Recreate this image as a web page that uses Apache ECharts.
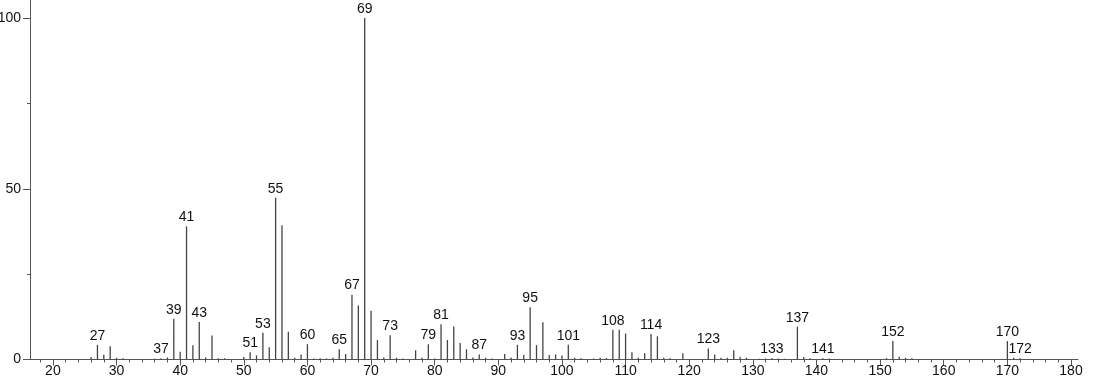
<!DOCTYPE html>
<html>
<head>
<meta charset="utf-8">
<script src="https://cdn.jsdelivr.net/npm/echarts@6/dist/echarts.min.js"></script>
<style>
html,body{margin:0;padding:0;background:#fff;}
#chart{width:1094px;height:384px;}
</style>
</head>
<body>
<div id="chart"></div>
<script>
// m/z values
var masses = [26,27,28,29,30,31,36,37,38,39,40,41,42,43,44,45,46,47,50,51,52,53,54,55,56,57,58,59,60,61,62,63,64,65,66,67,68,69,70,71,72,73,74,75,77,78,79,80,81,82,83,84,85,86,87,88,89,91,92,93,94,95,96,97,98,99,100,101,102,103,105,106,107,108,109,110,111,112,113,114,115,116,117,119,123,124,125,126,127,128,129,131,132,133,134,135,137,138,139,141,142,151,152,153,154,155,170,171,172];
// relative intensities
var intensities = [0.7,4.3,1.4,3.9,0.5,0.4,0.2,0.4,0.6,11.9,2.3,39.0,4.2,11.0,0.6,7.0,0.4,0.4,0.7,2.1,1.2,7.8,3.6,47.4,39.3,8.1,0.5,1.5,4.5,0.3,0.4,0.3,0.5,3.0,1.6,19.0,15.8,100,14.3,5.7,0.6,7.1,0.5,0.3,2.7,0.5,4.5,0.3,10.3,5.7,9.7,4.8,3.0,0.6,1.5,0.5,0.3,1.6,0.6,4.3,1.3,15.3,4.2,10.9,1.3,1.5,1.2,4.3,0.5,0.4,0.3,0.5,0.4,8.7,8.7,7.6,2.1,0.5,1.8,7.5,6.8,0.5,0.4,1.8,3.2,1.5,0.5,0.5,2.7,0.8,0.5,0.2,0.3,0.4,0.3,0.2,9.6,0.7,0.4,0.4,0.3,0.4,5.4,0.8,0.5,0.4,5.4,0.5,0.4];
// peaks that carry a label
var labeledMasses = [27,37,39,41,43,51,53,55,60,65,67,69,73,79,81,87,93,95,101,108,114,123,133,137,141,152,170,172];
// axis ticks
var xMajorTicks = [20,30,40,50,60,70,80,90,100,110,120,130,140,150,160,170,180];
var xMinorTicks = [18,22,24,26,28,32,34,36,38,42,44,46,48,52,54,56,58,62,64,66,68,72,74,76,78,82,84,86,88,92,94,96,98,102,104,106,108,112,114,116,118,122,124,126,128,132,134,136,138,142,144,146,148,152,154,156,158,162,164,166,168,172,174,176,178];
var yMajorTicks = [0,50,100];
var yMinorTicks = [25,75];

var data = masses.map(function(m, i){
  var item = {value:[m, intensities[i]]};
  if (labeledMasses.indexOf(m) >= 0) item.label = {show:true};
  return item;
});

var X_MIN = 16.4, X_MAX = 181.1, Y_MIN = 0, Y_MAX = 105.3;
var font = 'Liberation Sans, Arial, sans-serif';
var axisColor = '#555';

var chart = echarts.init(document.getElementById('chart'), null, {renderer:'canvas'});
chart.setOption({
  animation:false,
  backgroundColor:'#fff',
  grid:{left:30, right:16, top:0, bottom:24.5, containLabel:false, outerBoundsMode:'none'},
  xAxis:[{
    type:'value', min:X_MIN, max:X_MAX, position:'bottom',
    axisLine:{show:true, onZero:false, lineStyle:{color:axisColor, width:1}},
    axisTick:{show:true, customValues:xMajorTicks, length:6, lineStyle:{color:axisColor}},
    axisLabel:{show:true, customValues:xMajorTicks, color:'#111', fontFamily:font, fontSize:14, margin:5},
    splitLine:{show:false}
  },{
    type:'value', min:X_MIN, max:X_MAX, position:'bottom',
    axisLine:{show:false},
    axisTick:{show:true, customValues:xMinorTicks, length:3, lineStyle:{color:axisColor}},
    axisLabel:{show:false},
    splitLine:{show:false}
  }],
  yAxis:[{
    type:'value', min:Y_MIN, max:Y_MAX, position:'left',
    axisLine:{show:true, onZero:false, lineStyle:{color:axisColor, width:1}},
    axisTick:{show:true, customValues:yMajorTicks, length:7, lineStyle:{color:axisColor}},
    axisLabel:{show:true, customValues:yMajorTicks, color:'#111', fontFamily:font, fontSize:14, margin:9},
    splitLine:{show:false}
  },{
    type:'value', min:Y_MIN, max:Y_MAX, position:'left',
    axisLine:{show:false},
    axisTick:{show:true, customValues:yMinorTicks, length:3, lineStyle:{color:axisColor}},
    axisLabel:{show:false},
    splitLine:{show:false}
  }],
  series:[{
    type:'bar',
    xAxisIndex:0, yAxisIndex:0,
    barWidth:1.3,
    itemStyle:{color:'#444'},
    label:{show:false, position:'top', distance:2, color:'#111', fontFamily:font, fontSize:14,
      formatter:function(p){return p.value[0];}},
    data:data
  }]
});
</script>
</body>
</html>
